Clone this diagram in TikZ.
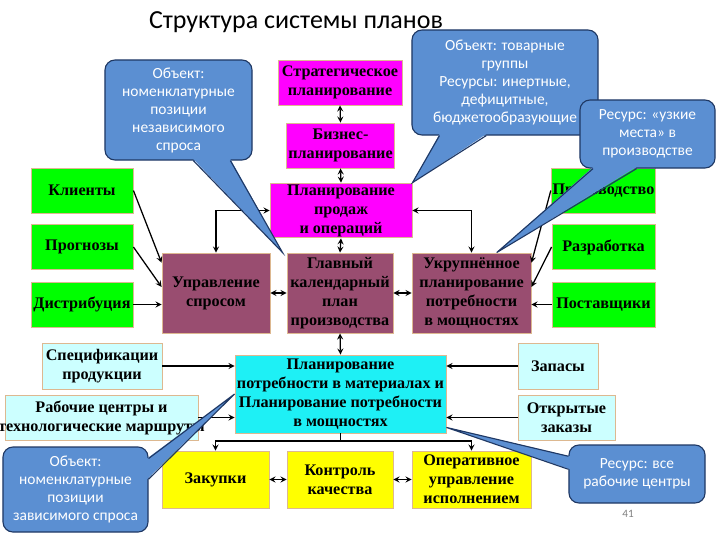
\documentclass[tikz,border=0pt]{standalone}
\usepackage{fontspec}
\setmainfont{Liberation Serif}
\newfontfamily\calfont{Carlito}
\usepackage{xcolor}
\usetikzlibrary{arrows,arrows.meta,calc}
\definecolor{grn}{HTML}{00FF00}
\definecolor{mgn}{HTML}{FF00FF}
\definecolor{mrn}{HTML}{994D70}
\definecolor{cyn}{HTML}{1EF0F5}
\definecolor{lcyn}{HTML}{CCFFFF}
\definecolor{ylw}{HTML}{FFFF00}
\definecolor{boxline}{HTML}{DDB890}
\definecolor{bubfill}{HTML}{5B8FD2}
\definecolor{bubline}{HTML}{1F3864}
\tikzset{Box/.style={draw=boxline,line width=0.6pt,align=center,inner sep=1pt,font=\fontsize{11.5}{13.5}\selectfont\bfseries},
  Grn/.style={Box,fill=grn,minimum height=1.125cm},
  Mgn/.style={Box,fill=mgn},
  Mrn/.style={Box,fill=mrn,minimum height=2cm},
  Lcyn/.style={Box,fill=lcyn,minimum height=1.15cm},
  Ylw/.style={Box,fill=ylw,minimum height=1.425cm},
  Bub/.style={rectangle,rounded corners=0.25cm,fill=bubfill,draw=bubline,line width=0.8pt,text=white,align=center,inner sep=0pt,font=\calfont\fontsize{11}{12.8}\selectfont},
  BubFill/.style={fill=bubfill},
  BubLine/.style={draw=bubline,line width=0.8pt}}

\begin{document}
\begin{tikzpicture}[x=0.025cm,y=-0.025cm]
    \useasboundingbox (0,0) rectangle (720,540);
    \node[font=\calfont\fontsize{18.5}{20}\selectfont] (Title) at (296,22) {Структура системы планов};
    \node[Grn,minimum width=2.55cm] (Klient) at (82,190.5) {Клиенты};
    \node[Grn,minimum width=2.55cm] (Prognoz) at (82,247) {Прогнозы};
    \node[Grn,minimum width=2.55cm] (Distr) at (82,304.5) {Дистрибуция};
    \node[Grn,minimum width=2.575cm] (Proizv) at (603.5,190.5) {Производство};
    \node[Grn,minimum width=2.575cm] (Razrab) at (603.5,247) {Разработка};
    \node[Grn,minimum width=2.575cm] (Postav) at (603.5,304.5) {Поставщики};
    \node[Mgn,minimum width=3.1cm,minimum height=1.125cm] (Strat) at (340,82.5) {Стратегическое\\планирование};
    \node[Mgn,minimum width=2.675cm,minimum height=1.125cm] (Biznes) at (340.5,145.5) {Бизнес-\\планирование};
    \node[Mgn,minimum width=3.55cm,minimum height=1.275cm] (PPO) at (341,210.5) {Планирование\\продаж\\и операций};
    \node[Mrn,minimum width=2.7cm] (UprSpr) at (216,293) {Управление\\спросом};
    \node[Mrn,minimum width=2.65cm] (GKP) at (340,293) {Главный\\календарный\\план\\производства};
    \node[Mrn,minimum width=2.975cm] (UPM) at (471.5,293) {Укрупнённое\\планирование\\потребности\\в мощностях};
    \node[Box,fill=cyn,minimum width=5.275cm,minimum height=1.95cm] (MRP) at (340.5,394) {Планирование\\потребности в материалах и\\Планирование потребности\\в мощностях};
    \node[Lcyn,minimum width=3cm] (Spec) at (102,366) {Спецификации\\продукции};
    \node[Lcyn,minimum width=4.825cm,minimum height=1.125cm] (RabC) at (101.5,417.5) {};
    \node[Box,draw=none] (RabCtxt) at (RabC) {Рабочие центры и\\технологические маршруты};
    \node[Lcyn,minimum width=2cm] (Zapas) at (558,366) {Запасы};
    \node[Lcyn,minimum width=2.425cm,minimum height=1.125cm] (Zakaz) at (566.5,417.5) {Открытые\\заказы};
    \node[Ylw,minimum width=2.675cm] (Zakup) at (215.5,479.5) {Закупки};
    \node[Ylw,minimum width=2.65cm] (Kontr) at (340,479.5) {Контроль\\качества};
    \node[Ylw,minimum width=2.975cm] (Oper) at (471.5,479.5) {Оперативное\\управление\\исполнением};
    \coordinate (Bus) at (340.5,441);
    \begin{scope}[->,>=stealth,line width=0.9pt]
      \draw (Klient.east) -- ($(UprSpr.north west)!.125!(UprSpr.south west)$);
      \draw (Prognoz.east) -- ($(UprSpr.north west)!.425!(UprSpr.south west)$);
      \draw (Distr.east) -- (Distr.east -| UprSpr.west);
      \draw (Proizv.west) -- ($(UPM.north east)!.125!(UPM.south east)$);
      \draw (Razrab.west) -- ($(UPM.north east)!.425!(UPM.south east)$);
      \draw (Postav.west) -- (Postav.west -| UPM.east);
      \draw (Spec.east) -- (Spec.east -| MRP.west);
      \draw (RabC.east) -- (RabC.east -| MRP.west);
      \draw (Zapas.west) -- (Zapas.west -| MRP.east);
      \draw (Zakaz.west) -- (Zakaz.west -| MRP.east);
      \draw[-] (MRP.south) -- (Bus);
      \draw (Bus) -| (Zakup.north);
      \draw (Bus) -| (Oper.north);
      \draw[<->] (Strat.south) -- (Biznes.north);
      \draw[<->] (Biznes.south) -- (PPO.north);
      \draw[<->] (PPO.south) -- (GKP.north);
      \draw[<->] (GKP.south) -- (MRP.north);
      \draw[<->] (UprSpr.north) |- (PPO.west);
      \draw[<->] (UPM.north) |- (PPO.east);
      \draw[<->] (UprSpr.east) -- (GKP.west);
      \draw[<->] (GKP.east) -- (UPM.west);
      \draw[<->] (Zakup.east) -- (Kontr.west);
      \draw[<->] (Kontr.east) -- (Oper.west);
    \end{scope}
    \node[Bub,minimum width=3.675cm,minimum height=2.5cm] (B1) at (178.5,110) {Объект:\\номенклатурные\\позиции\\независимого\\спроса};
    \fill[BubFill] ($(B1.south west)!.6!(B1.south east)+(0,-1.5)$) -- ([xshift=-0.1cm]GKP.north west) -- ($(B1.south west)!.85!(B1.south east)+(0,-1.5)$) -- cycle;
    \draw[BubLine] ($(B1.south west)!.6!(B1.south east)$) -- ([xshift=-0.1cm]GKP.north west) -- ($(B1.south west)!.85!(B1.south east)$);
    \node[Bub,minimum width=4.65cm,minimum height=2.625cm] (B2) at (505,82.5) {Объект: товарные\\группы\\Ресурсы: инертные,\\дефицитные,\\бюджетообразующие};
    \fill[BubFill] ($(B2.south west)!.15!(B2.south east)+(0,-1.5)$) -- (PPO.north east) -- ($(B2.south west)!.4!(B2.south east)+(0,-1.5)$) -- cycle;
    \draw[BubLine] ($(B2.south west)!.15!(B2.south east)$) -- (PPO.north east) -- ($(B2.south west)!.4!(B2.south east)$);
    \node[Bub,minimum width=3.375cm,minimum height=1.7cm] (B3) at (647.5,134) {Ресурс: «узкие\\места» в\\производстве};
    \fill[BubFill] ($(B3.south west)!.1!(B3.south east)+(0,-1.5)$) -- ($(UPM.north west)!.71!(UPM.north east)$) -- ($(B3.south west)!.42!(B3.south east)+(0,-1.5)$) -- cycle;
    \draw[BubLine] ($(B3.south west)!.1!(B3.south east)$) -- ($(UPM.north west)!.71!(UPM.north east)$) -- ($(B3.south west)!.42!(B3.south east)$);
    \node[Bub,minimum width=3.625cm,minimum height=2.125cm] (B4) at (75.5,489.5) {Объект:\\номенклатурные\\позиции\\зависимого спроса};
    \fill[BubFill] ($(B4.north east)!.14!(B4.south east)+(-1.5,0)$) -- (MRP.west) -- ($(B4.north east)!.38!(B4.south east)+(-1.5,0)$) -- cycle;
    \draw[BubLine] ($(B4.north east)!.14!(B4.south east)$) -- (MRP.west) -- ($(B4.north east)!.38!(B4.south east)$);
    \node[Bub,minimum width=3.4cm,minimum height=1.45cm] (B5) at (637,474) {Ресурс: все\\рабочие центры};
    \fill[BubFill] ($(B5.north west)!.2!(B5.south west)+(1.5,0)$) -- ([yshift=0.15cm]MRP.south east) -- ($(B5.north west)!.42!(B5.south west)+(1.5,0)$) -- cycle;
    \draw[BubLine] ($(B5.north west)!.2!(B5.south west)$) -- ([yshift=0.15cm]MRP.south east) -- ($(B5.north west)!.42!(B5.south west)$);
    \node[font=\calfont\fontsize{8}{9}\selectfont,text=gray] (PgNum) at (628,514) {41};
  \end{tikzpicture}
\end{document}
